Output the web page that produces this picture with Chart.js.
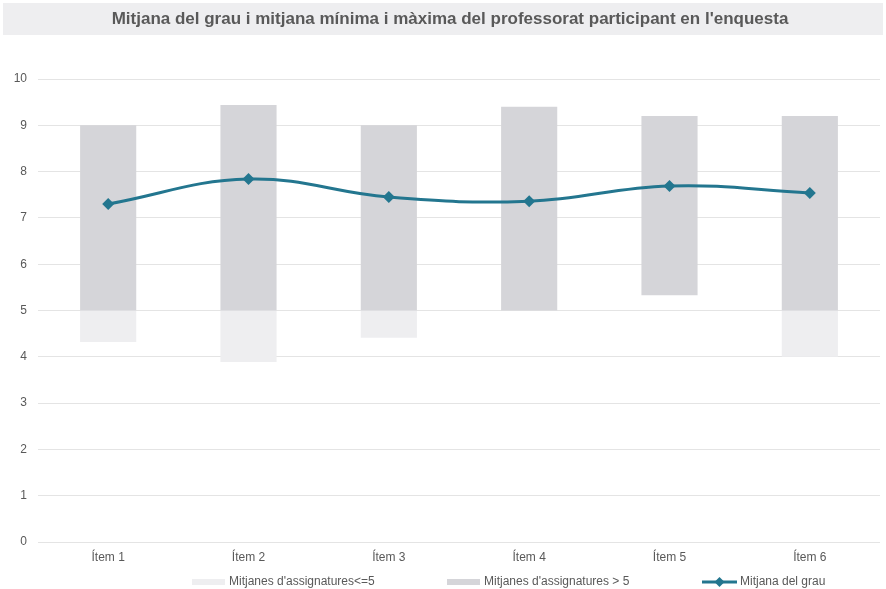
<!DOCTYPE html>
<html>
<head>
<meta charset="utf-8">
<script src="https://cdn.jsdelivr.net/npm/chart.js@4.4.1/dist/chart.umd.min.js"></script>
<style>
html,body{margin:0;padding:0;background:#fff;}
#wrap{width:886px;height:589px;position:relative;}
</style>
</head>
<body>
<div id="wrap"><canvas id="c" width="886" height="589"></canvas></div>
<script>
const categories = ["Ítem 1", "Ítem 2", "Ítem 3", "Ítem 4", "Ítem 5", "Ítem 6"];
const minMeans = [4.32, 3.89, 4.41, 5.0, 5.33, 4.0];
const maxMeans = [9.0, 9.44, 9.0, 9.4, 9.2, 9.2];
const gradeMeans = [7.30, 7.84, 7.45, 7.36, 7.69, 7.54];
const yTicks = [0, 1, 2, 3, 4, 5, 6, 7, 8, 9, 10];
const threshold = 5;
const titleText = "Mitjana del grau i mitjana mínima i màxima del professorat participant en l'enquesta";
const seriesNames = ["Mitjanes d'assignatures<=5", "Mitjanes d'assignatures > 5", "Mitjana del grau"];

const lightColor = "#eeeef0";
const darkColor = "#d5d5d9";
const lineColor = "#23768f";
const textColor = "#595959";
const FONT = "'Liberation Sans', Arial, sans-serif";

const lowData = minMeans.map(v => v < threshold ? [v, threshold] : null);
const highData = minMeans.map((v, i) => [Math.max(v, threshold), maxMeans[i]]);

const bgPlugin = {
  id: 'bgTitle',
  beforeDraw(chart) {
    const ctx = chart.ctx;
    ctx.save();
    ctx.fillStyle = '#fff';
    ctx.fillRect(0, 0, chart.width, chart.height);
    ctx.fillStyle = '#eeeef0';
    ctx.fillRect(3, 3, 880, 32);
    ctx.fillStyle = textColor;
    ctx.font = "bold 17px " + FONT;
    ctx.textAlign = 'center';
    ctx.textBaseline = 'middle';
    ctx.fillText(titleText, 450, 19);
    ctx.restore();
  }
};

const legendPlugin = {
  id: 'customLegend',
  afterDraw(chart) {
    const ctx = chart.ctx;
    const y = 582;
    ctx.save();
    ctx.font = "12px " + FONT;
    ctx.textBaseline = 'middle';
    ctx.textAlign = 'left';
    // item 1
    ctx.fillStyle = lightColor;
    ctx.fillRect(192, y - 3, 33, 6);
    ctx.fillStyle = textColor;
    ctx.fillText(seriesNames[0], 229, y);
    // item 2
    ctx.fillStyle = darkColor;
    ctx.fillRect(447, y - 3, 33, 6);
    ctx.fillStyle = textColor;
    ctx.fillText(seriesNames[1], 484, y);
    // item 3
    ctx.strokeStyle = lineColor;
    ctx.lineWidth = 3;
    ctx.beginPath();
    ctx.moveTo(702, y);
    ctx.lineTo(737, y);
    ctx.stroke();
    ctx.fillStyle = lineColor;
    ctx.beginPath();
    ctx.moveTo(719.5, y - 5);
    ctx.lineTo(724.5, y);
    ctx.lineTo(719.5, y + 5);
    ctx.lineTo(714.5, y);
    ctx.closePath();
    ctx.fill();
    ctx.fillStyle = textColor;
    ctx.fillText(seriesNames[2], 740, y);
    ctx.restore();
  }
};

new Chart(document.getElementById('c'), {
  data: {
    labels: categories,
    datasets: [
      {
        type: 'line',
        label: seriesNames[2],
        data: gradeMeans,
        borderColor: lineColor,
        backgroundColor: lineColor,
        borderWidth: 3,
        tension: 0.4,
        pointStyle: 'rectRot',
        pointRadius: 6,
        pointHoverRadius: 6,
        pointBackgroundColor: lineColor,
        pointBorderWidth: 0,
        order: 0
      },
      {
        type: 'bar',
        label: seriesNames[0],
        data: lowData,
        backgroundColor: lightColor,
        borderWidth: 0,
        grouped: false,
        categoryPercentage: 1,
        barPercentage: 0.4,
        order: 2
      },
      {
        type: 'bar',
        label: seriesNames[1],
        data: highData,
        backgroundColor: darkColor,
        borderWidth: 0,
        grouped: false,
        categoryPercentage: 1,
        barPercentage: 0.4,
        order: 1
      }
    ]
  },
  options: {
    responsive: false,
    animation: false,
    layout: { padding: { top: 79, right: 6, bottom: 17, left: 0 } },
    plugins: {
      legend: { display: false },
      title: { display: false },
      tooltip: { enabled: false }
    },
    scales: {
      x: {
        grid: { display: false, drawTicks: false },
        border: { display: false },
        ticks: { color: textColor, font: { family: FONT, size: 12 }, padding: 8 },
        afterFit(s) { s.height = 30; }
      },
      y: {
        min: 0, max: 10,
        afterBuildTicks(s) { s.ticks = yTicks.map(v => ({ value: v })); },
        grid: { color: '#e4e4e4', lineWidth: 1, drawTicks: false },
        border: { display: false },
        ticks: { color: textColor, font: { family: FONT, size: 12 }, padding: 11 },
        afterFit(s) { s.width = 38; }
      }
    }
  },
  plugins: [bgPlugin, legendPlugin]
});
</script>
</body>
</html>
